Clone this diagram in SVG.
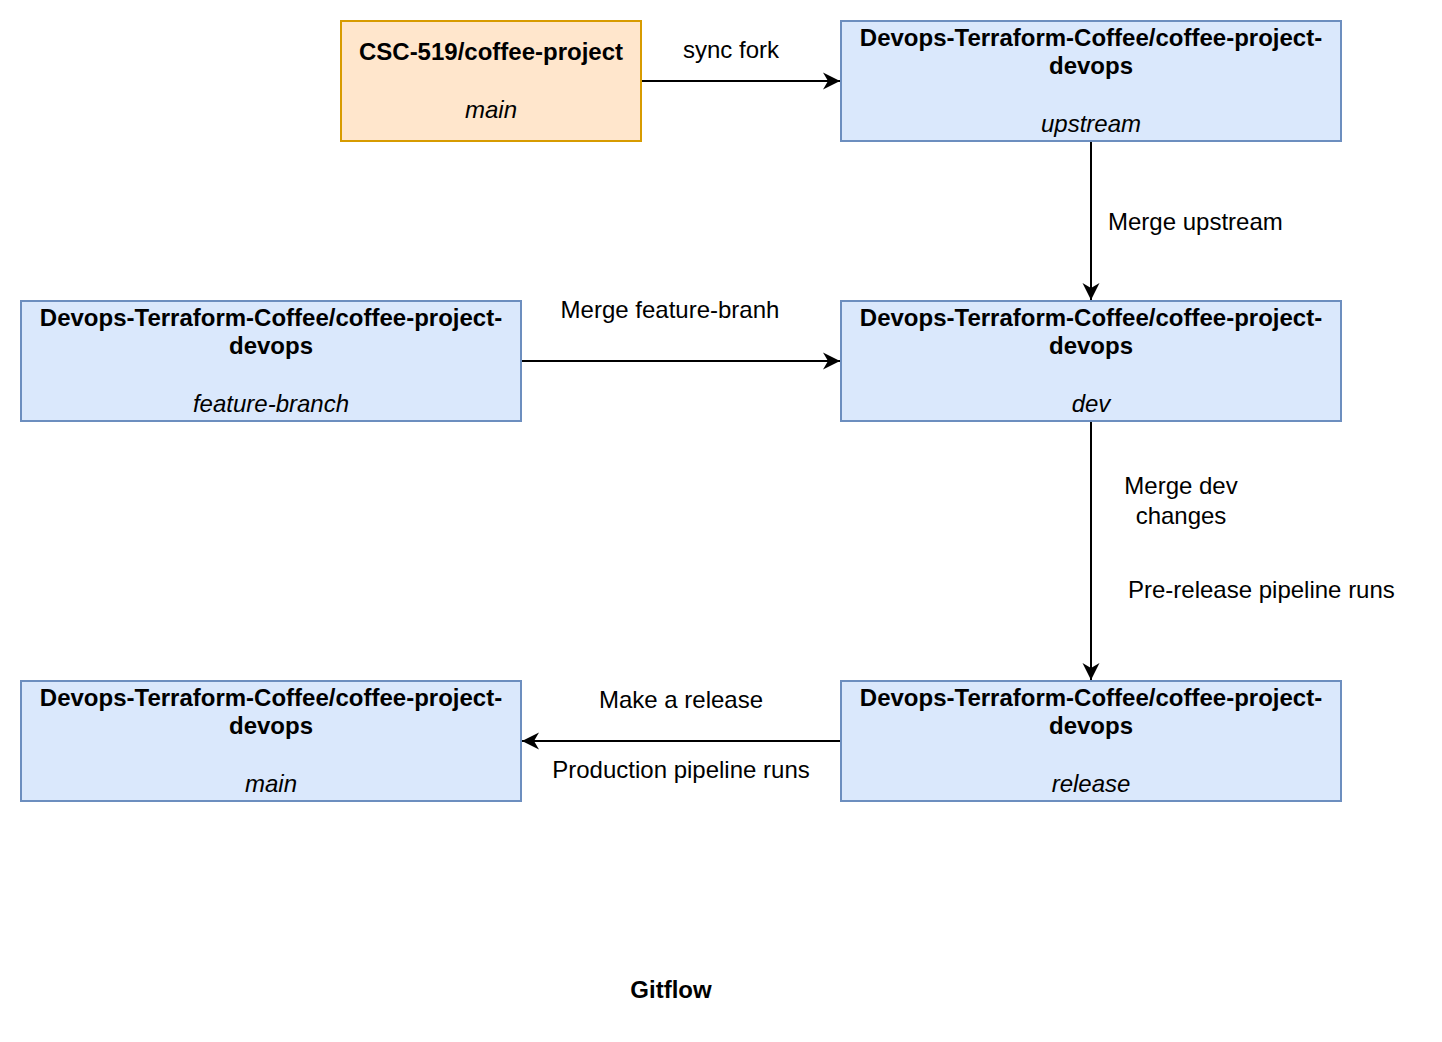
<svg xmlns="http://www.w3.org/2000/svg" width="1442" height="1042" viewBox="0 0 1442 1042">
<style>
text{font-family:"Liberation Sans",Arial,Helvetica,sans-serif;font-size:24px;fill:#000}
.b{font-weight:bold}
.i{font-style:italic}
.m{text-anchor:middle}
.blue{fill:#dae8fc;stroke:#6c8ebf;stroke-width:2}
.orange{fill:#ffe6cc;stroke:#d79b00;stroke-width:2}
.edge{fill:none;stroke:#000;stroke-width:2}
</style>
<defs>
<marker id="arr" markerUnits="userSpaceOnUse" markerWidth="20" markerHeight="20" viewBox="-18 -10 20 20" refX="0" refY="0" orient="auto">
<path d="M0,0 L-17,-8.5 L-12,0 L-17,8.5 Z" fill="#000"/>
</marker>
</defs>
<rect width="1442" height="1042" fill="#fff"/>
<g id="connectors">
<path class="edge" d="M641,81 H840" marker-end="url(#arr)"/>
<path class="edge" d="M1091,141 V300" marker-end="url(#arr)"/>
<path class="edge" d="M521,361 H840" marker-end="url(#arr)"/>
<path class="edge" d="M1091,421 V680" marker-end="url(#arr)"/>
<path class="edge" d="M841,741 H522" marker-end="url(#arr)"/>
<text class="m" x="731" y="58">sync fork</text>
<text x="1108" y="230">Merge upstream</text>
<text class="m" x="670" y="318">Merge feature-branh</text>
<text class="m" x="1181" y="494">Merge dev</text>
<text class="m" x="1181" y="524">changes</text>
<text x="1128" y="598">Pre-release pipeline runs</text>
<text class="m" x="681" y="708">Make a release</text>
<text class="m" x="681" y="778">Production pipeline runs</text>
</g>
<g id="csc-main">
<rect class="orange" x="341" y="21" width="300" height="120"/>
<text class="m b" x="491" y="60">CSC-519/coffee-project</text>
<text class="m i" x="491" y="118">main</text>
</g>
<g id="upstream">
<rect class="blue" x="841" y="21" width="500" height="120"/>
<text class="m b" x="1091" y="46">Devops-Terraform-Coffee/coffee-project-</text>
<text class="m b" x="1091" y="74">devops</text>
<text class="m i" x="1091" y="132">upstream</text>
</g>
<g id="feature-branch">
<rect class="blue" x="21" y="301" width="500" height="120"/>
<text class="m b" x="271" y="326">Devops-Terraform-Coffee/coffee-project-</text>
<text class="m b" x="271" y="354">devops</text>
<text class="m i" x="271" y="412">feature-branch</text>
</g>
<g id="dev">
<rect class="blue" x="841" y="301" width="500" height="120"/>
<text class="m b" x="1091" y="326">Devops-Terraform-Coffee/coffee-project-</text>
<text class="m b" x="1091" y="354">devops</text>
<text class="m i" x="1091" y="412">dev</text>
</g>
<g id="main">
<rect class="blue" x="21" y="681" width="500" height="120"/>
<text class="m b" x="271" y="706">Devops-Terraform-Coffee/coffee-project-</text>
<text class="m b" x="271" y="734">devops</text>
<text class="m i" x="271" y="792">main</text>
</g>
<g id="release">
<rect class="blue" x="841" y="681" width="500" height="120"/>
<text class="m b" x="1091" y="706">Devops-Terraform-Coffee/coffee-project-</text>
<text class="m b" x="1091" y="734">devops</text>
<text class="m i" x="1091" y="792">release</text>
</g>
<g id="title">
<text class="m b" x="671" y="998">Gitflow</text>
</g>
</svg>
